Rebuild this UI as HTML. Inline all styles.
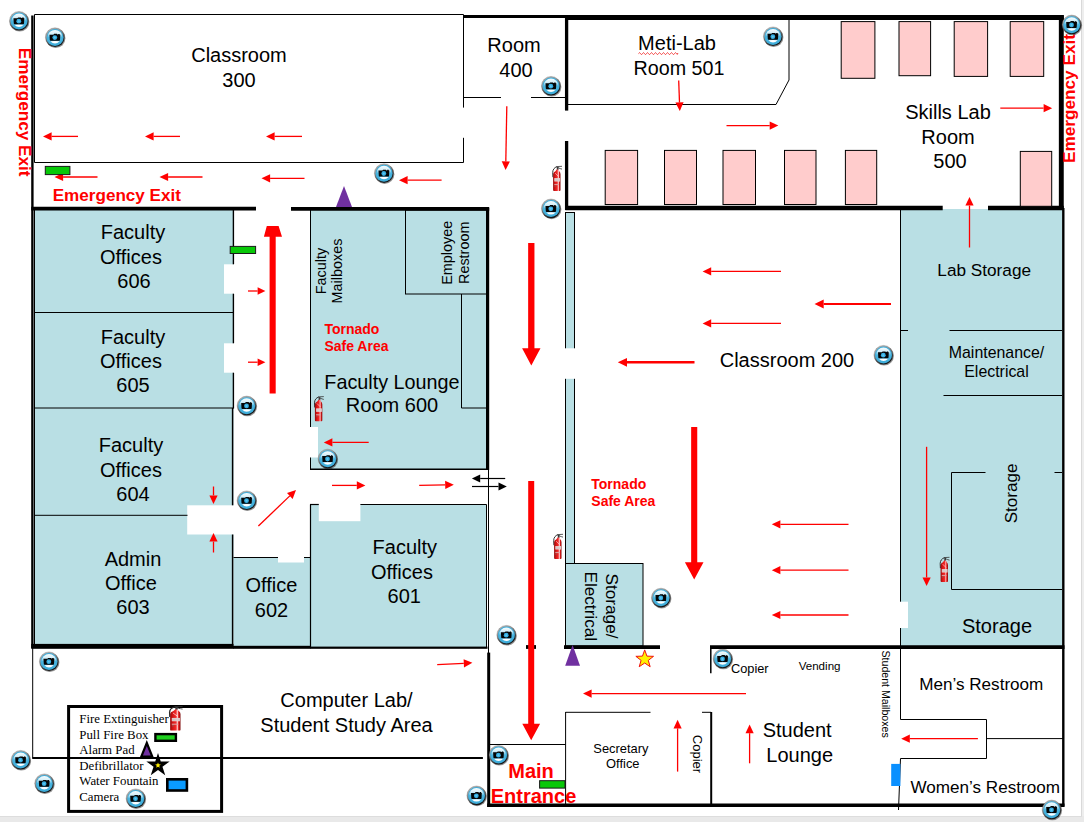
<!DOCTYPE html>
<html><head><meta charset="utf-8"><title>Floor Plan</title>
<style>
html,body{margin:0;padding:0;background:#fff;}
body{width:1084px;height:822px;overflow:hidden;}
svg{display:block;}
text{white-space:pre;}
</style></head><body>
<svg width="1084" height="822" viewBox="0 0 1084 822">
<defs>
<linearGradient id="camRing" x1="0.25" y1="0" x2="0.75" y2="1">
<stop offset="0" stop-color="#b4b4b4"/><stop offset="0.3" stop-color="#9a9a9a"/><stop offset="0.6" stop-color="#4a4a4a"/><stop offset="0.85" stop-color="#121212"/><stop offset="1" stop-color="#0a0a0a"/>
</linearGradient>
<linearGradient id="camBody" x1="0" y1="0" x2="0" y2="1">
<stop offset="0" stop-color="#f6fcfe"/><stop offset="0.25" stop-color="#d6eff8"/><stop offset="0.38" stop-color="#8fd2ee"/><stop offset="0.5" stop-color="#4bb6e0"/><stop offset="1" stop-color="#3fadda"/>
</linearGradient>
<linearGradient id="camHi" x1="0" y1="0" x2="0" y2="1">
<stop offset="0" stop-color="#ffffff" stop-opacity="0.95"/><stop offset="1" stop-color="#ffffff" stop-opacity="0.1"/>
</linearGradient>
<linearGradient id="extBody" x1="0" y1="0" x2="1" y2="0">
<stop offset="0" stop-color="#8e0b0b"/><stop offset="0.25" stop-color="#d81515"/><stop offset="0.55" stop-color="#f22a2a"/><stop offset="0.72" stop-color="#ffc4c4"/><stop offset="0.82" stop-color="#e11c1c"/><stop offset="1" stop-color="#7d0808"/>
</linearGradient>
<g id="cam">
<circle cx="0.7" cy="0.9" r="9.7" fill="#000" opacity="0.4"/>
<circle cx="0" cy="0" r="9.6" fill="url(#camRing)" stroke="#555" stroke-opacity="0.55" stroke-width="0.5"/>
<circle cx="0" cy="0" r="8.5" fill="#3fadda"/>
<circle cx="0" cy="0" r="7.5" fill="url(#camBody)"/>
<path d="M-4.7,3.8 Q0,3.3 4.7,3.8 Q0,8.2 -4.7,3.8 Z" fill="#ffffff"/>
<path d="M-5.5,-2.7 L-1.6,-2.7 L-0.9,-3.6 L1.9,-3.6 L2.4,-2.9 L3.2,-2.9 L3.2,-3.5 L4.6,-3.5 L4.8,-2.7 L5.3,-2.7 L5.0,2.6 Q4.9,3.3 4.2,3.3 L-4.4,3.3 Q-5.1,3.3 -5.2,2.6 Z" fill="#050505"/>
<circle cx="-0.2" cy="0.2" r="2.4" fill="#35aee2"/>
<circle cx="-0.2" cy="0.2" r="1.0" fill="#62c6ee"/>
</g>
<g id="ext">
<path d="M5.0,0.7 C2.4,1.4 0.7,3.6 0.7,6.5 L0.9,11.2" fill="none" stroke="#2a2a2a" stroke-width="0.95"/>
<path d="M4.4,0.6 L10,0.3" fill="none" stroke="#333" stroke-width="0.8"/>
<path d="M5.8,1.6 L8.2,2.6 L10,3.1" fill="none" stroke="#333" stroke-width="0.8"/>
<rect x="4.8" y="0.8" width="1.7" height="3.2" fill="#3a3a3a"/>
<path d="M1.1,8.2 Q1.1,6.2 3.4,5.2 L4.7,3.5 L6.4,3.5 L7.2,5.2 Q8.5,6.2 8.5,8.2 L8.5,24 Q8.5,24.9 7.6,24.9 L2,24.9 Q1.1,24.9 1.1,24 Z" fill="url(#extBody)"/>
<path d="M3.2,7.2 L6.6,10.6" fill="none" stroke="#ffe9e9" stroke-width="0.7" opacity="0.85"/>
<rect x="2.3" y="12.1" width="5.8" height="3.4" fill="#e9e9e9" opacity="0.92"/>
<path d="M2.3,13.2 H8.1 M2.3,14.4 H8.1" stroke="#b8a0a0" stroke-width="0.35" fill="none"/>
<rect x="2.3" y="17.9" width="4.6" height="1.2" fill="#d8a8a8" opacity="0.9"/>
<rect x="2.4" y="19.4" width="1.4" height="1.4" fill="#9a5050" opacity="0.8"/>
</g>
</defs>

<rect x="0" y="0" width="1084" height="822" fill="#fff" stroke="none" stroke-width="1"/>
<rect x="1082" y="0" width="2" height="822" fill="#EEEEEE" stroke="none" stroke-width="1"/>
<line x1="1081.5" y1="0" x2="1081.5" y2="816" stroke="#D9D9D9" stroke-width="1" stroke-linecap="butt"/>
<rect x="0" y="816" width="1084" height="6" fill="#E9E9E9" stroke="none" stroke-width="1"/>
<line x1="0" y1="816.5" x2="1082" y2="816.5" stroke="#DDDDDD" stroke-width="1" stroke-linecap="butt"/>
<rect x="34" y="210" width="199.5" height="435" fill="#B9DFE4" stroke="none" stroke-width="1"/>
<rect x="310" y="210" width="177.5" height="259.3" fill="#B9DFE4" stroke="none" stroke-width="1"/>
<rect x="310" y="504.5" width="176.5" height="142.5" fill="#B9DFE4" stroke="none" stroke-width="1"/>
<rect x="233.5" y="557.5" width="76.5" height="89.0" fill="#B9DFE4" stroke="none" stroke-width="1"/>
<rect x="900.5" y="209" width="161.5" height="437" fill="#B9DFE4" stroke="none" stroke-width="1"/>
<rect x="565.5" y="212.5" width="9.0" height="351.0" fill="#B9DFE4" stroke="#000" stroke-width="1"/>
<rect x="565.5" y="563.5" width="77.5" height="82.5" fill="#B9DFE4" stroke="#000" stroke-width="1"/>
<rect x="224" y="264.3" width="11" height="29.399999999999977" fill="#fff" stroke="none" stroke-width="1"/>
<rect x="224" y="343.3" width="11" height="29.399999999999977" fill="#fff" stroke="none" stroke-width="1"/>
<rect x="187.2" y="505.3" width="47.30000000000001" height="29.19999999999999" fill="#fff" stroke="none" stroke-width="1"/>
<rect x="309.5" y="427" width="8.5" height="30.5" fill="#fff" stroke="none" stroke-width="1"/>
<rect x="318.8" y="503.5" width="41.599999999999966" height="17.700000000000045" fill="#fff" stroke="none" stroke-width="1"/>
<rect x="278" y="556" width="26" height="6.5" fill="#fff" stroke="none" stroke-width="1"/>
<rect x="564" y="348.3" width="12" height="30.5" fill="#fff" stroke="none" stroke-width="1"/>
<rect x="899.5" y="601.7" width="8.5" height="26.299999999999955" fill="#fff" stroke="none" stroke-width="1"/>
<polyline points="463.5,107.6 463.5,14.5 34.5,14.5 34.5,162.5 463.5,162.5 463.5,137.8" fill="none" stroke="#000" stroke-width="1"/>
<line x1="34.5" y1="210" x2="34.5" y2="646" stroke="#000" stroke-width="1" stroke-linecap="butt"/>
<line x1="34" y1="312.5" x2="233.5" y2="312.5" stroke="#000" stroke-width="1" stroke-linecap="butt"/>
<line x1="34" y1="408" x2="233.5" y2="408" stroke="#000" stroke-width="1" stroke-linecap="butt"/>
<line x1="34" y1="515.3" x2="187.5" y2="515.3" stroke="#000" stroke-width="1" stroke-linecap="butt"/>
<line x1="233.4" y1="210" x2="233.4" y2="264.3" stroke="#000" stroke-width="1.4" stroke-linecap="butt"/>
<line x1="233.4" y1="293.7" x2="233.4" y2="343.3" stroke="#000" stroke-width="1.4" stroke-linecap="butt"/>
<line x1="233.4" y1="372.7" x2="233.4" y2="408.5" stroke="#000" stroke-width="1.4" stroke-linecap="butt"/>
<line x1="232.6" y1="408" x2="232.6" y2="505.3" stroke="#000" stroke-width="1.5" stroke-linecap="butt"/>
<line x1="232.6" y1="534.5" x2="232.6" y2="646" stroke="#000" stroke-width="1.5" stroke-linecap="butt"/>
<line x1="233.5" y1="557.5" x2="278" y2="557.5" stroke="#000" stroke-width="1" stroke-linecap="butt"/>
<line x1="304" y1="557.5" x2="310" y2="557.5" stroke="#000" stroke-width="1" stroke-linecap="butt"/>
<line x1="310.5" y1="504.5" x2="310.5" y2="648" stroke="#000" stroke-width="1.2" stroke-linecap="butt"/>
<line x1="310" y1="504.5" x2="318.8" y2="504.5" stroke="#000" stroke-width="1.2" stroke-linecap="butt"/>
<line x1="360.4" y1="504.5" x2="486.5" y2="504.5" stroke="#000" stroke-width="1.2" stroke-linecap="butt"/>
<line x1="486.5" y1="504.5" x2="486.5" y2="648" stroke="#000" stroke-width="1" stroke-linecap="butt"/>
<line x1="488.5" y1="469" x2="488.5" y2="653" stroke="#000" stroke-width="1" stroke-linecap="butt"/>
<line x1="310.5" y1="210" x2="310.5" y2="427" stroke="#000" stroke-width="1" stroke-linecap="butt"/>
<line x1="310.5" y1="457.5" x2="310.5" y2="469.3" stroke="#000" stroke-width="1" stroke-linecap="butt"/>
<line x1="310" y1="469.3" x2="489" y2="469.3" stroke="#000" stroke-width="1.6" stroke-linecap="butt"/>
<line x1="487.6" y1="208" x2="487.6" y2="470" stroke="#000" stroke-width="3.2" stroke-linecap="butt"/>
<rect x="405.5" y="210" width="81.0" height="84" fill="none" stroke="#000" stroke-width="1"/>
<line x1="461.5" y1="294" x2="461.5" y2="408" stroke="#000" stroke-width="1" stroke-linecap="butt"/>
<line x1="461.5" y1="408" x2="486.5" y2="408" stroke="#000" stroke-width="1" stroke-linecap="butt"/>
<line x1="463.5" y1="97.5" x2="501" y2="97.5" stroke="#000" stroke-width="1" stroke-linecap="butt"/>
<line x1="531" y1="97.5" x2="566" y2="97.5" stroke="#000" stroke-width="1" stroke-linecap="butt"/>
<polyline points="566,104.5 776,104.5 789,80 789,18" fill="none" stroke="#000" stroke-width="1"/>
<line x1="900.5" y1="209" x2="900.5" y2="601.7" stroke="#000" stroke-width="1" stroke-linecap="butt"/>
<line x1="900.5" y1="628" x2="900.5" y2="646" stroke="#000" stroke-width="1" stroke-linecap="butt"/>
<line x1="900.5" y1="330.5" x2="908" y2="330.5" stroke="#000" stroke-width="1" stroke-linecap="butt"/>
<line x1="949.5" y1="330.5" x2="1062" y2="330.5" stroke="#000" stroke-width="1" stroke-linecap="butt"/>
<line x1="943.5" y1="395.5" x2="1062" y2="395.5" stroke="#000" stroke-width="1" stroke-linecap="butt"/>
<polyline points="985.5,472.5 951.5,472.5 951.5,589.5 1062,589.5" fill="none" stroke="#000" stroke-width="1"/>
<line x1="1054.5" y1="472.5" x2="1062" y2="472.5" stroke="#000" stroke-width="1" stroke-linecap="butt"/>
<line x1="32.7" y1="648" x2="32.7" y2="757.8" stroke="#000" stroke-width="1" stroke-linecap="butt"/>
<line x1="32.2" y1="758" x2="482.9" y2="758" stroke="#000" stroke-width="1.9" stroke-linecap="butt"/>
<line x1="489" y1="744.5" x2="565.6" y2="744.5" stroke="#000" stroke-width="1" stroke-linecap="butt"/>
<line x1="565.5" y1="712.3" x2="650.5" y2="712.3" stroke="#000" stroke-width="1" stroke-linecap="butt"/>
<line x1="702" y1="712.3" x2="711" y2="712.3" stroke="#000" stroke-width="1" stroke-linecap="butt"/>
<line x1="565.6" y1="712" x2="565.6" y2="806" stroke="#000" stroke-width="1" stroke-linecap="butt"/>
<line x1="711.2" y1="712" x2="711.2" y2="806" stroke="#000" stroke-width="2" stroke-linecap="butt"/>
<line x1="710.8" y1="646" x2="710.8" y2="673.3" stroke="#000" stroke-width="1.5" stroke-linecap="butt"/>
<polyline points="900.5,646 900.5,719.5 986.5,719.5 986.5,758.5 900.5,758.5 898.5,810" fill="none" stroke="#000" stroke-width="1"/>
<line x1="986.5" y1="738.6" x2="1064" y2="738.6" stroke="#000" stroke-width="1" stroke-linecap="butt"/>
<line x1="32.4" y1="15.4" x2="32.4" y2="648" stroke="#000" stroke-width="2.4" stroke-linecap="butt"/>
<line x1="31.2" y1="208.7" x2="256" y2="208.7" stroke="#000" stroke-width="3.8" stroke-linecap="butt"/>
<line x1="291" y1="208.8" x2="489.2" y2="208.8" stroke="#000" stroke-width="3.8" stroke-linecap="butt"/>
<rect x="31.2" y="643.9" width="202.3" height="4.899999999999977" fill="#000" stroke="none" stroke-width="1"/>
<rect x="233" y="645.8" width="77.5" height="3.0" fill="#000" stroke="none" stroke-width="1"/>
<rect x="310" y="646.6" width="177.5" height="2.199999999999932" fill="#000" stroke="none" stroke-width="1"/>
<line x1="463" y1="16.5" x2="566" y2="16.5" stroke="#000" stroke-width="3.2" stroke-linecap="butt"/>
<line x1="565" y1="17.4" x2="1063.8" y2="17.4" stroke="#000" stroke-width="5" stroke-linecap="butt"/>
<line x1="1061.3" y1="15.2" x2="1061.3" y2="210" stroke="#000" stroke-width="4.9" stroke-linecap="butt"/>
<line x1="1063.3" y1="208" x2="1063.3" y2="806.5" stroke="#000" stroke-width="2.4" stroke-linecap="butt"/>
<line x1="566.6" y1="15.5" x2="566.6" y2="110.6" stroke="#000" stroke-width="3.3" stroke-linecap="butt"/>
<line x1="566.6" y1="141" x2="566.6" y2="210" stroke="#000" stroke-width="3.3" stroke-linecap="butt"/>
<line x1="565.4" y1="208" x2="942.7" y2="208" stroke="#000" stroke-width="4.6" stroke-linecap="butt"/>
<line x1="988" y1="208" x2="1063.8" y2="208" stroke="#000" stroke-width="4.6" stroke-linecap="butt"/>
<line x1="564" y1="647.1" x2="660" y2="647.1" stroke="#000" stroke-width="3.6" stroke-linecap="butt"/>
<line x1="710" y1="647.2" x2="1064.5" y2="647.2" stroke="#000" stroke-width="3.8" stroke-linecap="butt"/>
<line x1="487.2" y1="805.2" x2="1064.5" y2="805.2" stroke="#000" stroke-width="3.5" stroke-linecap="butt"/>
<line x1="488.7" y1="652.6" x2="488.7" y2="806.9" stroke="#000" stroke-width="3" stroke-linecap="butt"/>
<line x1="526" y1="647" x2="536" y2="647" stroke="#000" stroke-width="3.8" stroke-linecap="butt"/>
<rect x="841.2" y="21.6" width="33.69999999999993" height="56.699999999999996" fill="#FFCCCC" stroke="#000" stroke-width="1"/>
<rect x="899" y="21.6" width="31.600000000000023" height="54.1" fill="#FFCCCC" stroke="#000" stroke-width="1"/>
<rect x="954.2" y="21.6" width="33.39999999999998" height="54.800000000000004" fill="#FFCCCC" stroke="#000" stroke-width="1"/>
<rect x="1010.2" y="21.6" width="33.5" height="54.800000000000004" fill="#FFCCCC" stroke="#000" stroke-width="1"/>
<rect x="605.2" y="150.4" width="32.39999999999998" height="54.099999999999994" fill="#FFCCCC" stroke="#000" stroke-width="1"/>
<rect x="664.5" y="150.4" width="32.0" height="54.099999999999994" fill="#FFCCCC" stroke="#000" stroke-width="1"/>
<rect x="723" y="150.4" width="32.5" height="54.099999999999994" fill="#FFCCCC" stroke="#000" stroke-width="1"/>
<rect x="784.5" y="150.4" width="31.5" height="54.099999999999994" fill="#FFCCCC" stroke="#000" stroke-width="1"/>
<rect x="845.4" y="150.4" width="31.300000000000068" height="54.099999999999994" fill="#FFCCCC" stroke="#000" stroke-width="1"/>
<rect x="1020.3" y="151.4" width="31.40000000000009" height="54.900000000000006" fill="#FFCCCC" stroke="#000" stroke-width="1"/>
<line x1="78.0" y1="136.4" x2="51.6" y2="136.4" stroke="#FF0000" stroke-width="1.3"/>
<polygon points="43.0,136.4 51.6,132.3 51.6,140.5" fill="#FF0000"/>
<line x1="180.0" y1="136.4" x2="153.6" y2="136.4" stroke="#FF0000" stroke-width="1.3"/>
<polygon points="145.0,136.4 153.6,132.3 153.6,140.5" fill="#FF0000"/>
<line x1="302.0" y1="136.4" x2="274.6" y2="136.4" stroke="#FF0000" stroke-width="1.3"/>
<polygon points="266.0,136.4 274.6,132.3 274.6,140.5" fill="#FF0000"/>
<line x1="97.5" y1="177.0" x2="63.1" y2="177.0" stroke="#FF0000" stroke-width="1.3"/>
<polygon points="54.5,177.0 63.1,172.9 63.1,181.1" fill="#FF0000"/>
<line x1="202.5" y1="177.0" x2="168.1" y2="177.0" stroke="#FF0000" stroke-width="1.3"/>
<polygon points="159.5,177.0 168.1,172.9 168.1,181.1" fill="#FF0000"/>
<line x1="304.5" y1="178.3" x2="270.1" y2="178.3" stroke="#FF0000" stroke-width="1.3"/>
<polygon points="261.5,178.3 270.1,174.2 270.1,182.4" fill="#FF0000"/>
<line x1="441.6" y1="180.2" x2="407.6" y2="180.2" stroke="#FF0000" stroke-width="1.3"/>
<polygon points="399.0,180.2 407.6,176.1 407.6,184.3" fill="#FF0000"/>
<line x1="506.8" y1="106.3" x2="505.8" y2="161.4" stroke="#FF0000" stroke-width="1.3"/>
<polygon points="505.6,170.0 501.7,161.3 509.9,161.5" fill="#FF0000"/>
<line x1="678.7" y1="80.4" x2="679.5" y2="102.4" stroke="#FF0000" stroke-width="1.3"/>
<polygon points="679.8,111.0 675.4,102.6 683.6,102.3" fill="#FF0000"/>
<line x1="726.5" y1="125.6" x2="769.7" y2="125.6" stroke="#FF0000" stroke-width="1.3"/>
<polygon points="778.3,125.6 769.7,129.7 769.7,121.5" fill="#FF0000"/>
<line x1="1000.3" y1="108.2" x2="1043.6" y2="108.2" stroke="#FF0000" stroke-width="1.3"/>
<polygon points="1052.2,108.2 1043.6,112.3 1043.6,104.1" fill="#FF0000"/>
<line x1="969.5" y1="247.5" x2="969.5" y2="205.6" stroke="#FF0000" stroke-width="1.3"/>
<polygon points="969.5,197.0 973.6,205.6 965.4,205.6" fill="#FF0000"/>
<line x1="781.0" y1="271.4" x2="711.2" y2="271.4" stroke="#FF0000" stroke-width="1.3"/>
<polygon points="702.6,271.4 711.2,267.3 711.2,275.5" fill="#FF0000"/>
<line x1="781.0" y1="323.4" x2="711.2" y2="323.4" stroke="#FF0000" stroke-width="1.3"/>
<polygon points="702.6,323.4 711.2,319.3 711.2,327.5" fill="#FF0000"/>
<line x1="891.0" y1="304.0" x2="823.7" y2="304.0" stroke="#FF0000" stroke-width="2.2"/>
<polygon points="814.5,304.0 823.7,299.6 823.7,308.4" fill="#FF0000"/>
<line x1="694.5" y1="362.3" x2="627.0" y2="362.3" stroke="#FF0000" stroke-width="2.4"/>
<polygon points="617.8,362.3 627.0,357.9 627.0,366.7" fill="#FF0000"/>
<line x1="248.0" y1="291.0" x2="257.6" y2="291.0" stroke="#FF0000" stroke-width="1.3"/>
<polygon points="265.4,291.0 257.6,294.8 257.6,287.2" fill="#FF0000"/>
<line x1="248.0" y1="362.2" x2="257.6" y2="362.2" stroke="#FF0000" stroke-width="1.3"/>
<polygon points="265.4,362.2 257.6,366.0 257.6,358.4" fill="#FF0000"/>
<line x1="368.7" y1="442.4" x2="332.4" y2="442.4" stroke="#FF0000" stroke-width="1.3"/>
<polygon points="323.8,442.4 332.4,438.3 332.4,446.5" fill="#FF0000"/>
<line x1="332.0" y1="485.4" x2="356.8" y2="485.4" stroke="#FF0000" stroke-width="1.3"/>
<polygon points="365.4,485.4 356.8,489.5 356.8,481.3" fill="#FF0000"/>
<line x1="419.2" y1="485.4" x2="445.2" y2="484.9" stroke="#FF0000" stroke-width="1.3"/>
<polygon points="453.8,484.7 445.3,489.0 445.1,480.8" fill="#FF0000"/>
<line x1="505.2" y1="478.5" x2="480.2" y2="478.5" stroke="#000" stroke-width="1.2"/>
<polygon points="471.9,478.5 480.2,474.5 480.2,482.5" fill="#000"/>
<line x1="472.0" y1="486.5" x2="498.5" y2="486.5" stroke="#000" stroke-width="1.2"/>
<polygon points="506.8,486.5 498.5,490.5 498.5,482.5" fill="#000"/>
<line x1="213.5" y1="486.5" x2="213.5" y2="495.4" stroke="#FF0000" stroke-width="1.3"/>
<polygon points="213.5,504.0 209.4,495.4 217.6,495.4" fill="#FF0000"/>
<line x1="213.5" y1="552.5" x2="213.5" y2="541.6" stroke="#FF0000" stroke-width="1.3"/>
<polygon points="213.5,533.0 217.6,541.6 209.4,541.6" fill="#FF0000"/>
<line x1="258.4" y1="526.0" x2="289.8" y2="495.9" stroke="#FF0000" stroke-width="1.3"/>
<polygon points="296.0,490.0 292.6,498.9 287.0,493.0" fill="#FF0000"/>
<line x1="437.2" y1="664.7" x2="463.8" y2="663.3" stroke="#FF0000" stroke-width="1.3"/>
<polygon points="472.4,662.8 464.0,667.4 463.6,659.2" fill="#FF0000"/>
<line x1="848.5" y1="524.3" x2="780.4" y2="524.3" stroke="#FF0000" stroke-width="1.3"/>
<polygon points="771.8,524.3 780.4,520.2 780.4,528.4" fill="#FF0000"/>
<line x1="848.5" y1="570.2" x2="780.4" y2="570.2" stroke="#FF0000" stroke-width="1.3"/>
<polygon points="771.8,570.2 780.4,566.1 780.4,574.3" fill="#FF0000"/>
<line x1="848.5" y1="615.0" x2="780.4" y2="615.0" stroke="#FF0000" stroke-width="1.3"/>
<polygon points="771.8,615.0 780.4,610.9 780.4,619.1" fill="#FF0000"/>
<line x1="926.6" y1="446.8" x2="926.6" y2="577.4" stroke="#FF0000" stroke-width="1.3"/>
<polygon points="926.6,586.0 922.5,577.4 930.7,577.4" fill="#FF0000"/>
<line x1="746.0" y1="693.6" x2="591.6" y2="693.6" stroke="#FF0000" stroke-width="1.3"/>
<polygon points="583.0,693.6 591.6,689.5 591.6,697.7" fill="#FF0000"/>
<line x1="677.6" y1="771.6" x2="677.6" y2="728.4" stroke="#FF0000" stroke-width="1.3"/>
<polygon points="677.6,719.8 681.7,728.4 673.5,728.4" fill="#FF0000"/>
<line x1="749.6" y1="763.3" x2="749.6" y2="733.2" stroke="#FF0000" stroke-width="1.3"/>
<polygon points="749.6,724.6 753.7,733.2 745.5,733.2" fill="#FF0000"/>
<line x1="977.9" y1="738.7" x2="909.8" y2="738.7" stroke="#FF0000" stroke-width="1.3"/>
<polygon points="901.2,738.7 909.8,734.6 909.8,742.8" fill="#FF0000"/>
<polygon points="269.6,393.5 275.7,393.5 275.7,236.7 282,236.7 278.6,226.1 266.8,226.1 263.9,236.7 269.6,236.7" fill="#FF0000"/>
<polygon points="528.15,243 534.4499999999999,243 534.4499999999999,348.3 540.5,348.3 531.3,365.5 522.0999999999999,348.3 528.15,348.3" fill="#FF0000"/>
<polygon points="528.2,481 534.2,481 534.2,723.6999999999999 540.1,723.6999999999999 531.2,740.3 522.3000000000001,723.6999999999999 528.2,723.6999999999999" fill="#FF0000"/>
<polygon points="691.1500000000001,427 697.25,427 697.25,562.1999999999999 703.5,562.1999999999999 694.2,579.4 684.9000000000001,562.1999999999999 691.1500000000001,562.1999999999999" fill="#FF0000"/>
<text x="239" y="62" font-family='"Liberation Sans", Arial, sans-serif' font-size="20" text-anchor="middle" fill="#000" font-weight="normal">Classroom</text>
<text x="239" y="87" font-family='"Liberation Sans", Arial, sans-serif' font-size="20" text-anchor="middle" fill="#000" font-weight="normal">300</text>
<text x="514" y="52" font-family='"Liberation Sans", Arial, sans-serif' font-size="20" text-anchor="middle" fill="#000" font-weight="normal">Room</text>
<text x="516" y="77" font-family='"Liberation Sans", Arial, sans-serif' font-size="20" text-anchor="middle" fill="#000" font-weight="normal">400</text>
<text x="677" y="50" font-family='"Liberation Sans", Arial, sans-serif' font-size="20" text-anchor="middle" fill="#000" font-weight="normal">Meti-Lab</text>
<text x="679" y="75" font-family='"Liberation Sans", Arial, sans-serif' font-size="19.7" text-anchor="middle" fill="#000" font-weight="normal">Room 501</text>
<path d="M638.5,53.6 q1,-1.8 2,0 t2,0 t2,0 t2,0 t2,0 t2,0 t2,0 t2,0 t2,0 t2,0 t2,0 t2,0 t2,0 t2,0 t2,0 t2,0 t2,0 t2,0 t2,0 t1.4,-0.6" fill="none" stroke="#f02020" stroke-width="0.9"/>
<text x="948" y="118.7" font-family='"Liberation Sans", Arial, sans-serif' font-size="20" text-anchor="middle" fill="#000" font-weight="normal">Skills Lab</text>
<text x="948" y="143.5" font-family='"Liberation Sans", Arial, sans-serif' font-size="20" text-anchor="middle" fill="#000" font-weight="normal">Room</text>
<text x="950" y="168" font-family='"Liberation Sans", Arial, sans-serif' font-size="20" text-anchor="middle" fill="#000" font-weight="normal">500</text>
<text x="133" y="239" font-family='"Liberation Sans", Arial, sans-serif' font-size="20" text-anchor="middle" fill="#000" font-weight="normal">Faculty</text>
<text x="131" y="264" font-family='"Liberation Sans", Arial, sans-serif' font-size="20" text-anchor="middle" fill="#000" font-weight="normal">Offices</text>
<text x="134" y="288" font-family='"Liberation Sans", Arial, sans-serif' font-size="20" text-anchor="middle" fill="#000" font-weight="normal">606</text>
<text x="133" y="343.5" font-family='"Liberation Sans", Arial, sans-serif' font-size="20" text-anchor="middle" fill="#000" font-weight="normal">Faculty</text>
<text x="131" y="367.5" font-family='"Liberation Sans", Arial, sans-serif' font-size="20" text-anchor="middle" fill="#000" font-weight="normal">Offices</text>
<text x="133" y="392" font-family='"Liberation Sans", Arial, sans-serif' font-size="20" text-anchor="middle" fill="#000" font-weight="normal">605</text>
<text x="131" y="452" font-family='"Liberation Sans", Arial, sans-serif' font-size="20" text-anchor="middle" fill="#000" font-weight="normal">Faculty</text>
<text x="131" y="476.5" font-family='"Liberation Sans", Arial, sans-serif' font-size="20" text-anchor="middle" fill="#000" font-weight="normal">Offices</text>
<text x="133" y="500.5" font-family='"Liberation Sans", Arial, sans-serif' font-size="20" text-anchor="middle" fill="#000" font-weight="normal">604</text>
<text x="133" y="565.5" font-family='"Liberation Sans", Arial, sans-serif' font-size="20" text-anchor="middle" fill="#000" font-weight="normal">Admin</text>
<text x="131" y="589.5" font-family='"Liberation Sans", Arial, sans-serif' font-size="20" text-anchor="middle" fill="#000" font-weight="normal">Office</text>
<text x="133" y="613.5" font-family='"Liberation Sans", Arial, sans-serif' font-size="20" text-anchor="middle" fill="#000" font-weight="normal">603</text>
<text x="271.5" y="592" font-family='"Liberation Sans", Arial, sans-serif' font-size="20" text-anchor="middle" fill="#000" font-weight="normal">Office</text>
<text x="271.5" y="617" font-family='"Liberation Sans", Arial, sans-serif' font-size="20" text-anchor="middle" fill="#000" font-weight="normal">602</text>
<text x="404.8" y="554" font-family='"Liberation Sans", Arial, sans-serif' font-size="20" text-anchor="middle" fill="#000" font-weight="normal">Faculty</text>
<text x="402" y="579" font-family='"Liberation Sans", Arial, sans-serif' font-size="20" text-anchor="middle" fill="#000" font-weight="normal">Offices</text>
<text x="404.3" y="603" font-family='"Liberation Sans", Arial, sans-serif' font-size="20" text-anchor="middle" fill="#000" font-weight="normal">601</text>
<text x="392" y="388.5" font-family='"Liberation Sans", Arial, sans-serif' font-size="19.8" text-anchor="middle" fill="#000" font-weight="normal">Faculty Lounge</text>
<text x="392" y="412" font-family='"Liberation Sans", Arial, sans-serif' font-size="20" text-anchor="middle" fill="#000" font-weight="normal">Room 600</text>
<text x="787" y="366.5" font-family='"Liberation Sans", Arial, sans-serif' font-size="20" text-anchor="middle" fill="#000" font-weight="normal">Classroom 200</text>
<text x="346.5" y="707" font-family='"Liberation Sans", Arial, sans-serif' font-size="20" text-anchor="middle" fill="#000" font-weight="normal">Computer Lab/</text>
<text x="346.5" y="732" font-family='"Liberation Sans", Arial, sans-serif' font-size="20" text-anchor="middle" fill="#000" font-weight="normal">Student Study Area</text>
<text x="797.2" y="736.5" font-family='"Liberation Sans", Arial, sans-serif' font-size="20" text-anchor="middle" fill="#000" font-weight="normal">Student</text>
<text x="799.7" y="762" font-family='"Liberation Sans", Arial, sans-serif' font-size="20" text-anchor="middle" fill="#000" font-weight="normal">Lounge</text>
<text x="997" y="633" font-family='"Liberation Sans", Arial, sans-serif' font-size="20" text-anchor="middle" fill="#000" font-weight="normal">Storage</text>
<text x="984.2" y="275.6" font-family='"Liberation Sans", Arial, sans-serif' font-size="17.2" text-anchor="middle" fill="#000" font-weight="normal">Lab Storage</text>
<text x="996.5" y="357.7" font-family='"Liberation Sans", Arial, sans-serif' font-size="15.9" text-anchor="middle" fill="#000" font-weight="normal">Maintenance/</text>
<text x="996.5" y="376.6" font-family='"Liberation Sans", Arial, sans-serif' font-size="15.9" text-anchor="middle" fill="#000" font-weight="normal">Electrical</text>
<text x="981.3" y="689.5" font-family='"Liberation Sans", Arial, sans-serif' font-size="17.1" text-anchor="middle" fill="#000" font-weight="normal">Men’s Restroom</text>
<text x="985.2" y="793" font-family='"Liberation Sans", Arial, sans-serif' font-size="17.1" text-anchor="middle" fill="#000" font-weight="normal">Women’s Restroom</text>
<text x="620.9" y="753" font-family='"Liberation Sans", Arial, sans-serif' font-size="12.9" text-anchor="middle" fill="#000" font-weight="normal">Secretary</text>
<text x="622.8" y="768" font-family='"Liberation Sans", Arial, sans-serif' font-size="12.9" text-anchor="middle" fill="#000" font-weight="normal">Office</text>
<text x="749.8" y="672.5" font-family='"Liberation Sans", Arial, sans-serif' font-size="12.8" text-anchor="middle" fill="#000" font-weight="normal">Copier</text>
<text x="819.6" y="670" font-family='"Liberation Sans", Arial, sans-serif' font-size="11.6" text-anchor="middle" fill="#000" font-weight="normal">Vending</text>
<text x="325.7" y="271" font-family='"Liberation Sans", Arial, sans-serif' font-size="14.4" text-anchor="middle" fill="#000" font-weight="normal" transform="rotate(-90 325.7 271)">Faculty</text>
<text x="342.4" y="271" font-family='"Liberation Sans", Arial, sans-serif' font-size="14.4" text-anchor="middle" fill="#000" font-weight="normal" transform="rotate(-90 342.4 271)">Mailboxes</text>
<text x="452" y="252.8" font-family='"Liberation Sans", Arial, sans-serif' font-size="14.4" text-anchor="middle" fill="#000" font-weight="normal" transform="rotate(-90 452 252.8)">Employee</text>
<text x="469" y="252.8" font-family='"Liberation Sans", Arial, sans-serif' font-size="14.4" text-anchor="middle" fill="#000" font-weight="normal" transform="rotate(-90 469 252.8)">Restroom</text>
<text x="1016.8" y="493.4" font-family='"Liberation Sans", Arial, sans-serif' font-size="17.1" text-anchor="middle" fill="#000" font-weight="normal" transform="rotate(-90 1016.8 493.4)">Storage</text>
<text x="606" y="606" font-family='"Liberation Sans", Arial, sans-serif' font-size="17.2" text-anchor="middle" fill="#000" font-weight="normal" transform="rotate(90 606 606)">Storage/</text>
<text x="584.7" y="606.3" font-family='"Liberation Sans", Arial, sans-serif' font-size="17.2" text-anchor="middle" fill="#000" font-weight="normal" transform="rotate(90 584.7 606.3)">Electrical</text>
<text x="692.5" y="754" font-family='"Liberation Sans", Arial, sans-serif' font-size="13" text-anchor="middle" fill="#000" font-weight="normal" transform="rotate(90 692.5 754)">Copier</text>
<text x="882" y="694.1" font-family='"Liberation Sans", Arial, sans-serif' font-size="10.6" text-anchor="middle" fill="#000" font-weight="normal" transform="rotate(90 882 694.1)">Student Mailboxes</text>
<text x="52.7" y="200.5" font-family='"Liberation Sans", Arial, sans-serif' font-size="17.1" text-anchor="start" fill="#FF0000" font-weight="bold">Emergency Exit</text>
<text x="19.3" y="47.8" font-family='"Liberation Sans", Arial, sans-serif' font-size="17.15" text-anchor="start" fill="#FF0000" font-weight="bold" transform="rotate(90 19.3 47.8)">Emergency Exit</text>
<text x="1074.5" y="163" font-family='"Liberation Sans", Arial, sans-serif' font-size="17.2" text-anchor="start" fill="#FF0000" font-weight="bold" transform="rotate(-90 1074.5 163)">Emergency Exit</text>
<text x="324.4" y="334" font-family='"Liberation Sans", Arial, sans-serif' font-size="14" text-anchor="start" fill="#FF0000" font-weight="bold">Tornado</text>
<text x="324.4" y="351.1" font-family='"Liberation Sans", Arial, sans-serif' font-size="14" text-anchor="start" fill="#FF0000" font-weight="bold">Safe Area</text>
<text x="591.3" y="488.7" font-family='"Liberation Sans", Arial, sans-serif' font-size="14" text-anchor="start" fill="#FF0000" font-weight="bold">Tornado</text>
<text x="591.3" y="505.9" font-family='"Liberation Sans", Arial, sans-serif' font-size="14" text-anchor="start" fill="#FF0000" font-weight="bold">Safe Area</text>
<text x="531" y="777.8" font-family='"Liberation Sans", Arial, sans-serif' font-size="20" text-anchor="middle" fill="#FF0000" font-weight="bold">Main</text>
<text x="533.5" y="802.8" font-family='"Liberation Sans", Arial, sans-serif' font-size="20" text-anchor="middle" fill="#FF0000" font-weight="bold">Entrance</text>
<rect x="45.3" y="166.4" width="24.60000000000001" height="8.199999999999989" fill="#08C808" stroke="#1a1a1a" stroke-width="1"/>
<rect x="230.2" y="246.4" width="25.400000000000006" height="7.099999999999994" fill="#08C808" stroke="#1a1a1a" stroke-width="1"/>
<rect x="539.6" y="780.7" width="25.399999999999977" height="7.399999999999977" fill="#08C808" stroke="#1a1a1a" stroke-width="1"/>
<polygon points="344.0,186 352,207 336,207" fill="#7030A0" stroke="none" stroke-width="0" stroke-linejoin="miter"/>
<polygon points="572.6,645.1 580,665.8 565.2,665.8" fill="#7030A0" stroke="none" stroke-width="0" stroke-linejoin="miter"/>
<polygon points="644.70,649.90 646.93,656.13 653.54,656.33 648.31,660.37 650.17,666.72 644.70,663.00 639.23,666.72 641.09,660.37 635.86,656.33 642.47,656.13" fill="#FFF000" stroke="#F01010" stroke-width="1.0" stroke-linejoin="miter"/>
<rect x="891.2" y="763.9" width="9.199999999999932" height="22.100000000000023" fill="#0A90FF" stroke="none" stroke-width="1"/>
<use href="#cam" x="19" y="21"/>
<use href="#cam" x="55" y="37.4"/>
<use href="#cam" x="384" y="173.3"/>
<use href="#cam" x="551" y="86"/>
<use href="#cam" x="551" y="208.6"/>
<use href="#cam" x="773" y="36.5"/>
<use href="#cam" x="1071.7" y="24.7"/>
<use href="#cam" x="883.5" y="355"/>
<use href="#cam" x="246.7" y="405.7"/>
<use href="#cam" x="246.7" y="500.5"/>
<use href="#cam" x="327.7" y="458.8"/>
<use href="#cam" x="661" y="597.8"/>
<use href="#cam" x="506.4" y="635"/>
<use href="#cam" x="49" y="661.5"/>
<use href="#cam" x="20.7" y="760"/>
<use href="#cam" x="44.3" y="783.5"/>
<use href="#cam" x="498.6" y="755"/>
<use href="#cam" x="476.5" y="795.6"/>
<use href="#cam" x="722.7" y="658.7"/>
<use href="#cam" x="1051.7" y="809.7"/>
<use href="#ext" transform="translate(552 166) scale(1.0)"/>
<use href="#ext" transform="translate(313.8 396.3) scale(1.0)"/>
<use href="#ext" transform="translate(553 534) scale(1.0)"/>
<use href="#ext" transform="translate(939.5 557) scale(1.0)"/>
<rect x="68.6" y="706.5" width="153.0" height="104.89999999999998" fill="none" stroke="#000" stroke-width="3"/>
<text x="79.3" y="723.0" font-family='"Liberation Serif", "Times New Roman", serif' font-size="12.85" text-anchor="start" fill="#000" font-weight="normal">Fire Extinguisher</text>
<text x="79.3" y="739.0" font-family='"Liberation Serif", "Times New Roman", serif' font-size="12.85" text-anchor="start" fill="#000" font-weight="normal">Pull Fire Box</text>
<text x="79.3" y="754.2" font-family='"Liberation Serif", "Times New Roman", serif' font-size="12.85" text-anchor="start" fill="#000" font-weight="normal">Alarm Pad</text>
<text x="79.3" y="769.6" font-family='"Liberation Serif", "Times New Roman", serif' font-size="12.85" text-anchor="start" fill="#000" font-weight="normal">Defibrillator</text>
<text x="79.3" y="785.2" font-family='"Liberation Serif", "Times New Roman", serif' font-size="12.85" text-anchor="start" fill="#000" font-weight="normal">Water Fountain</text>
<text x="79.3" y="800.9" font-family='"Liberation Serif", "Times New Roman", serif' font-size="12.85" text-anchor="start" fill="#000" font-weight="normal">Camera</text>
<use href="#ext" transform="translate(168.6 706) scale(1.4 0.985)"/>
<rect x="155.4" y="734.1" width="20.5" height="6.699999999999932" fill="#1FD01F" stroke="#000" stroke-width="2.4"/>
<polygon points="146.8,743 152.3,756.6 141.3,756.6" fill="#7030A0" stroke="#000" stroke-width="2.2" stroke-linejoin="miter"/>
<polygon points="158.00,752.90 160.76,761.40 169.70,761.40 162.47,766.65 165.23,775.15 158.00,769.90 150.77,775.15 153.53,766.65 146.30,761.40 155.24,761.40" fill="#000" stroke="none" stroke-width="0" stroke-linejoin="miter"/>
<polygon points="158.00,762.40 158.76,764.35 160.85,764.47 159.24,765.80 159.76,767.83 158.00,766.70 156.24,767.83 156.76,765.80 155.15,764.47 157.24,764.35" fill="#FFEE00" stroke="none" stroke-width="0" stroke-linejoin="miter"/>
<rect x="167.3" y="779.3" width="19.599999999999994" height="11.200000000000045" fill="#0A9BFF" stroke="#000" stroke-width="2.6"/>
<use href="#cam" x="135.7" y="798.5"/>
</svg>
</body></html>
